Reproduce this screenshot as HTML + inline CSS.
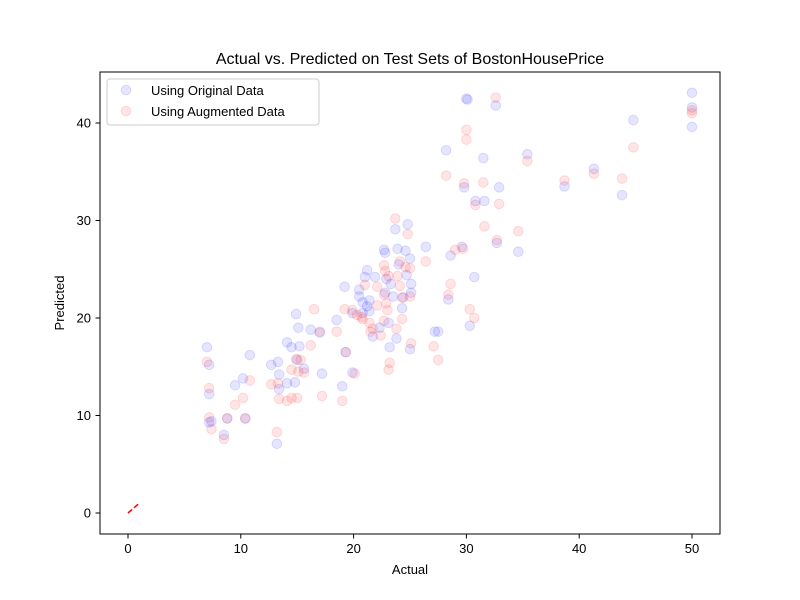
<!DOCTYPE html>
<html><head><meta charset="utf-8">
<style>
html,body{margin:0;padding:0;background:#fff;}
svg{display:block;font-family:"Liberation Sans","DejaVu Sans",sans-serif;}
</style></head>
<body>
<svg id="chart" width="800" height="600" viewBox="0 0 800 600" xmlns="http://www.w3.org/2000/svg">
<rect width="800" height="600" fill="#fff"/>
<text x="410" y="64" font-size="16" text-anchor="middle">Actual vs. Predicted on Test Sets of BostonHousePrice</text>
<g id="marks"></g>
<rect x="100" y="72" width="620" height="462" fill="none" stroke="#000" stroke-width="1"/>
<g id="axes"></g>
<text x="410" y="574" font-size="13" text-anchor="middle">Actual</text>
<text transform="translate(64,303) rotate(-90)" font-size="13" text-anchor="middle">Predicted</text>
<g>
<rect x="107" y="79" width="212" height="46" rx="3" fill="#fff" fill-opacity="0.8" stroke="#ccc"/>
<circle cx="126" cy="90" r="4.8" fill="rgba(0,0,255,0.1)" stroke="rgba(0,0,255,0.12)"/>
<text x="151" y="95" font-size="13">Using Original Data</text>
<circle cx="126" cy="111" r="4.8" fill="rgba(255,0,0,0.1)" stroke="rgba(255,0,0,0.12)"/>
<text x="151" y="116" font-size="13">Using Augmented Data</text>
</g>
</svg>
<script>
const xTicks = [0, 10, 20, 30, 40, 50];
const yTicks = [0, 10, 20, 30, 40];
const origActual = [7.0,7.2,10.8,14.9,15.1,16.2,18.5,17.0,14.1,14.5,15.2,12.7,13.3,15.0,15.6,13.4,17.2,10.2,9.5,7.2,14.1,14.8,13.4,19.0,19.9,19.9,7.2,7.4,8.8,10.4,8.5,13.2,19.3,24.8,23.7,26.4,22.7,22.8,23.9,24.6,25.0,24.0,28.6,29.6,30.7,21.2,21.0,21.9,22.9,23.3,25.1,24.7,19.2,20.5,20.5,21.4,20.8,21.2,22.8,23.5,25.1,24.4,24.3,20.8,21.4,28.4,30.3,27.2,27.5,22.3,23.1,21.7,23.8,23.2,25.0,30.8,31.6,30.0,30.1,32.6,28.2,31.5,35.4,29.8,32.9,32.7,34.6,50,50,50,44.8,41.3,38.7,43.8];
const origPred = [17.0,15.2,16.2,20.4,19.0,18.8,19.8,18.5,17.5,17.0,17.1,15.2,15.5,15.7,14.8,14.2,14.3,13.8,13.1,12.2,13.3,13.4,12.7,13.0,14.4,20.5,9.3,9.4,9.7,9.7,8.0,7.1,16.5,29.6,29.1,27.3,27.0,26.7,27.1,26.9,26.1,25.5,26.4,27.3,24.2,24.9,24.2,24.2,24.0,23.5,23.5,24.4,23.2,22.9,22.2,21.8,21.6,21.2,22.6,22.2,22.6,22.1,21.0,20.5,20.7,21.9,19.2,18.6,18.6,19.0,19.5,18.1,17.9,17.0,16.8,32.0,32.0,42.5,42.4,41.8,37.2,36.4,36.8,33.4,33.4,27.7,26.8,43.1,41.6,39.6,40.3,35.3,33.5,32.6];
const augActual = [7.0,7.2,10.8,12.7,13.3,10.2,9.5,13.4,14.1,14.5,15.0,17.2,19.0,7.2,7.4,8.8,10.4,8.5,13.2,16.5,19.2,17.0,18.5,16.2,14.9,15.3,14.5,15.1,15.6,19.3,19.9,23.7,24.8,26.4,22.7,24.1,25.0,24.6,22.8,23.1,23.9,21.0,22.1,22.7,24.1,24.3,25.0,28.6,28.4,22.1,23.0,22.9,20.3,20.7,20.8,21.4,21.7,21.5,22.4,22.7,23.8,24.3,25.1,27.1,27.5,23.2,23.1,30.3,30.7,20.1,30.8,31.6,29.0,29.7,32.6,30.0,30.0,28.2,29.8,31.5,35.4,32.9,34.6,32.7,50,50,44.8,41.3,38.7,43.8];
const augPred = [15.5,12.8,13.6,13.2,13.3,11.8,11.1,11.7,11.5,11.8,11.8,12.0,11.5,9.8,8.6,9.7,9.7,7.6,8.3,20.9,20.9,18.6,18.6,17.2,15.8,15.7,14.7,14.5,14.4,16.5,20.8,30.2,28.6,25.8,25.4,25.8,25.1,25.2,24.8,24.3,24.3,23.4,23.2,22.4,23.3,22.1,22.2,23.5,22.4,21.3,20.8,21.5,20.3,20.1,19.9,19.5,18.9,18.6,18.2,19.7,18.9,19.9,17.4,17.1,15.7,15.4,14.7,20.9,20.0,14.3,31.6,29.4,27.0,27.1,42.6,39.3,38.3,34.6,33.8,33.9,36.1,31.7,28.9,28.0,41.3,41.0,37.5,34.8,34.1,34.3];
const refLineX = [0, 1];
const refLineY = [0, 1];

function xs(v){ return 128 + v * 11.28; }
function ys(v){ return 513 - v * 9.75; }
const NS = "http://www.w3.org/2000/svg";
const marks = document.getElementById('marks');
const axes = document.getElementById('axes');

origActual.forEach(function(a, i){
  const c = document.createElementNS(NS, 'circle');
  
  
  c.setAttribute('cx', xs(a)); c.setAttribute('cy', ys(origPred[i]));
  c.setAttribute('r', 4.8);
  c.setAttribute('fill', 'rgba(0,0,255,0.1)');
  c.setAttribute('stroke', 'rgba(0,0,255,0.12)');
  marks.appendChild(c);
});
augActual.forEach(function(a, i){
  const c = document.createElementNS(NS, 'circle');
  
  
  c.setAttribute('cx', xs(a)); c.setAttribute('cy', ys(augPred[i]));
  c.setAttribute('r', 4.8);
  c.setAttribute('fill', 'rgba(255,0,0,0.1)');
  c.setAttribute('stroke', 'rgba(255,0,0,0.12)');
  marks.appendChild(c);
});
const ln = document.createElementNS(NS, 'line');


ln.setAttribute('x1', xs(refLineX[0])); ln.setAttribute('y1', ys(refLineY[0]));
ln.setAttribute('x2', xs(refLineX[1])); ln.setAttribute('y2', ys(refLineY[1]));
ln.setAttribute('stroke', 'red'); ln.setAttribute('stroke-width', '1.5'); ln.setAttribute('stroke-dasharray', '5.5,2.4');
marks.appendChild(ln);

xTicks.forEach(function(t){
  const x = xs(t);
  const tk = document.createElementNS(NS, 'line');
  
  
  tk.setAttribute('x1', x); tk.setAttribute('x2', x); tk.setAttribute('y1', 534); tk.setAttribute('y2', 538.5);
  tk.setAttribute('stroke', '#000');
  axes.appendChild(tk);
  const tx = document.createElementNS(NS, 'text');
  
  
  tx.setAttribute('x', x); tx.setAttribute('y', 553); tx.setAttribute('font-size', '13'); tx.setAttribute('text-anchor', 'middle');
  tx.textContent = t;
  axes.appendChild(tx);
});
yTicks.forEach(function(t){
  const y = ys(t);
  const tk = document.createElementNS(NS, 'line');
  
  
  tk.setAttribute('x1', 95.5); tk.setAttribute('x2', 100); tk.setAttribute('y1', y); tk.setAttribute('y2', y);
  tk.setAttribute('stroke', '#000');
  axes.appendChild(tk);
  const tx = document.createElementNS(NS, 'text');
  
  
  tx.setAttribute('x', 91); tx.setAttribute('y', y + 4.5); tx.setAttribute('font-size', '13'); tx.setAttribute('text-anchor', 'end');
  tx.textContent = t;
  axes.appendChild(tx);
});
</script>
</body></html>
